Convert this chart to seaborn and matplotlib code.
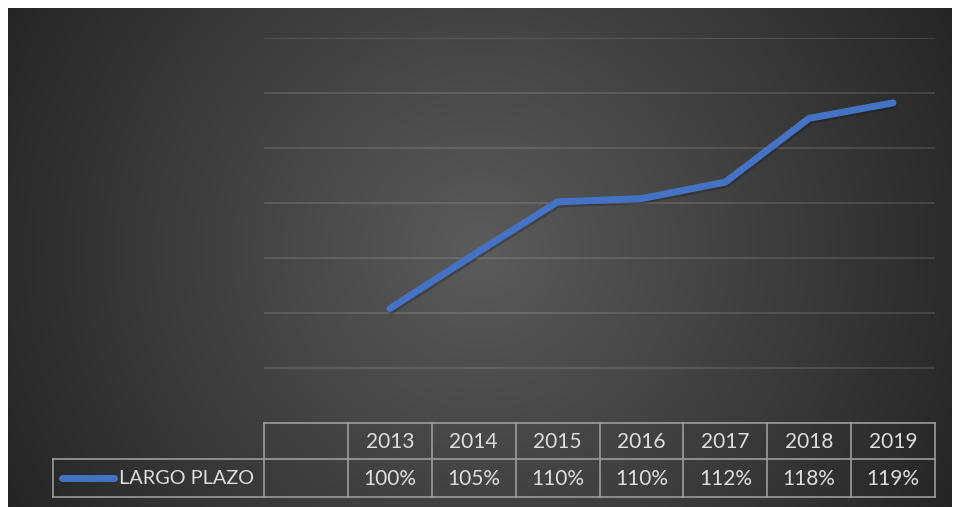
import numpy as np
import matplotlib
matplotlib.use("Agg")
import matplotlib.pyplot as plt
import matplotlib.patheffects as pe
from matplotlib.lines import Line2D
from matplotlib.transforms import blended_transform_factory
import pandas as pd
import seaborn as sns

# Data
years = ["2013", "2014", "2015", "2016", "2017", "2018", "2019"]
largo_plazo = [1.004, 1.053, 1.101, 1.104, 1.119, 1.177, 1.191]
series_name = "LARGO PLAZO"

W, H, DPI = 954, 507, 100
LINE_BLUE = "#4472C4"
TEXT_COL = "#dedede"
BORDER_COL = "#9c9c9c"

sns.set_theme(style="dark")
plt.rcParams["font.family"] = ["Lato", "DejaVu Sans"]

fig = plt.figure(figsize=(W / DPI, H / DPI), dpi=DPI, facecolor="white")


def fx(px):
    return px / W


def fy(py):
    return 1 - py / H


# Dark panel with a soft radial highlight
bg = fig.add_axes([fx(8), 0, fx(952) - fx(8), fy(8)])
bg.set_axis_off()
yy, xx = np.mgrid[8:507, 8:952]
d = np.hypot(xx - 480, yy - 250)
shade = np.clip(91 - 54 * (d / 534), 34, 95) / 255
rgb = np.dstack([shade, shade, shade])
bg.imshow(rgb, extent=[0, 1, 0, 1], aspect="auto", interpolation="bilinear")
bg.set_xlim(0, 1)
bg.set_ylim(0, 1)

# Plot area
ax = fig.add_axes([fx(264), fy(423), fx(935) - fx(264), fy(38) - fy(423)])
ax.patch.set_alpha(0)
df = pd.DataFrame({"Año": years, series_name: largo_plazo})
sns.lineplot(data=df, x="Año", y=series_name, ax=ax, color=LINE_BLUE,
             lw=5.0, solid_capstyle="round", solid_joinstyle="round",
             sort=False, zorder=3)
ax.lines[0].set_path_effects([
    pe.SimpleLineShadow(offset=(1.0, -1.5), shadow_color="black", alpha=0.22),
    pe.Normal(),
])
ax.set_xlim(-1.5, len(years) - 0.5)
ax.set_ylim(0.90, 1.25)
ax.set_yticks(np.arange(0.90, 1.2501, 0.05))
ax.grid(axis="y", color="#ffffff", alpha=0.13, lw=1.3)
ax.grid(axis="x", visible=False)
ax.tick_params(left=False, bottom=False, labelleft=False, labelbottom=False)
ax.set_xlabel("")
ax.set_ylabel("")
for s in ax.spines.values():
    s.set_visible(False)

# Data table beneath the plot
blend = blended_transform_factory(ax.transData, fig.transFigure)
y_top, y_mid, y_bot = fy(423), fy(459), fy(497)
x_left, x_right = -1.5, len(years) - 0.5
lkw = dict(color=BORDER_COL, lw=1.2, solid_capstyle="projecting")

fig.add_artist(Line2D([x_left, x_right], [y_top, y_top], transform=blend, **lkw))
for k in range(len(years) + 2):
    xb = x_left + k
    fig.add_artist(Line2D([xb, xb], [y_top, y_bot], transform=blend, **lkw))
# Rows that extend left under the legend key
fig.add_artist(Line2D([fx(53), fx(935)], [y_mid, y_mid], transform=fig.transFigure, **lkw))
fig.add_artist(Line2D([fx(53), fx(935)], [y_bot, y_bot], transform=fig.transFigure, **lkw))
fig.add_artist(Line2D([fx(53), fx(53)], [y_mid, y_bot], transform=fig.transFigure, **lkw))

for i, (yr, v) in enumerate(zip(years, largo_plazo)):
    fig.text(0, 0, yr, transform=blend, fontsize=15, color=TEXT_COL,
             ha="center", va="center").set_position((i, fy(441.5)))
    fig.text(0, 0, f"{v * 100:.0f}%", transform=blend, fontsize=15,
             color=TEXT_COL, ha="center", va="center").set_position((i, fy(479)))

# Legend key in the table
fig.add_artist(Line2D([fx(62), fx(114)], [fy(478), fy(478)], transform=fig.transFigure,
                      color=LINE_BLUE, lw=5, solid_capstyle="round"))
fig.text(fx(119), fy(479), series_name, fontsize=14.3, color=TEXT_COL,
         ha="left", va="center")

fig.savefig("out.png", dpi=DPI, facecolor="white")
